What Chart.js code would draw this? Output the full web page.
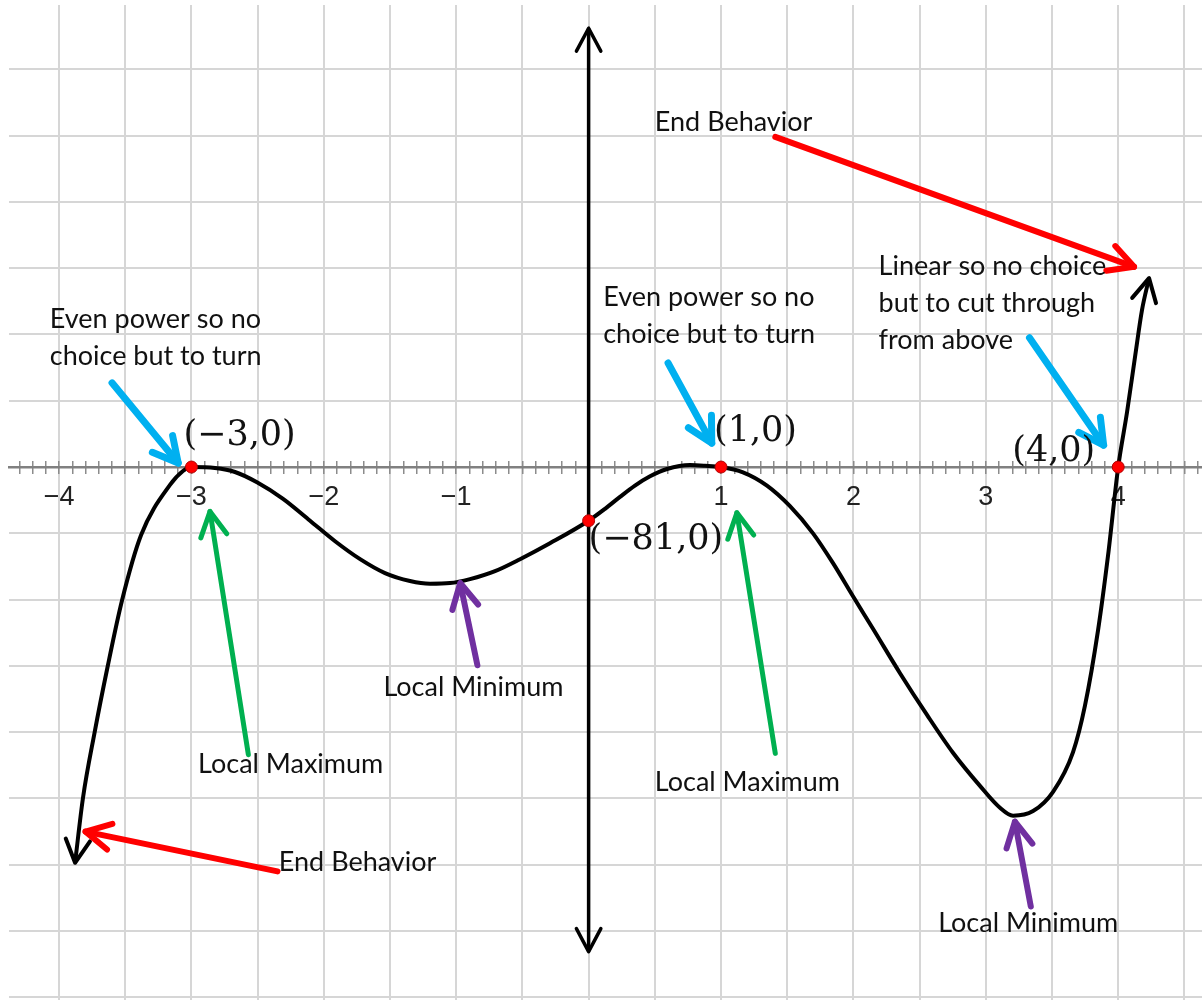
<!DOCTYPE html>
<html lang="en">
<head>
    <meta charset="UTF-8">
    <title>Polynomial sketch</title>
    <script src="https://cdn.jsdelivr.net/npm/chart.js"></script>
    <style>
        body { margin: 0; background: #fff; }
        .chart-container { position: relative; width: 1202px; height: 1000px; }
    </style>
</head>
<body>
    <div class="chart-container">
        <canvas id="polyChart"></canvas>
    </div>

    <script>
        // points
        var curveX = [-3.879, -3.819, -3.732, -3.634, -3.524, -3.381, -3.162, -3.064, -3.0,
            -2.822, -2.671, -2.505, -2.308, -2.104, -1.915, -1.726, -1.538, -1.349, -1.198, -1.047, -0.896, -0.707,
            -0.518, -0.292, 0, 0.124, 0.237, 0.350, 0.464, 0.592, 0.766, 0.879, 1.0,
            1.166, 1.347, 1.521, 1.695, 1.846, 1.997, 2.148, 2.352, 2.556, 2.752, 2.956, 3.107, 3.206, 3.357,
            3.508, 3.659, 3.749, 3.848, 3.923, 4.0, 4.067, 4.127, 4.180, 4.233];
        var curveY = [-597, -499, -401, -302, -201, -103, -27, -6, 0,
            -1.5, -7.5, -23, -48, -81, -112, -139, -160, -172, -176, -175, -169, -157,
            -139, -115, -81, -63, -45, -28, -14, -3, 3, 2, 0,
            -8, -28, -59, -100, -145, -195, -244, -311, -374, -431, -481, -514, -526, -519,
            -490, -430, -360, -246, -134, 0, 83, 166, 237, 285];

        // marked points and what they are called
        var markX = [-3, 0, 1, 4];
        var markY = [0, -81, 0, 0];
        var markText = ["(\u22123,0)", "(\u221281,0)", "(1,0)", "(4,0)"];
        var markDx = [-8, 0, -7, -23];
        var markDy = [-31, 19, -35, -15];
        var markAlign = ["left", "left", "left", "right"];

        // vertical axis arrow ends
        var yAxisEnds = [662, -731];

        // axis ticks / grid
        var xLabelValues = [-4, -3, -2, -1, 1, 2, 3, 4];
        var xLabelText = ["\u22124", "\u22123", "\u22122", "\u22121", "1", "2", "3", "4"];
        var xGrid = [-4, -3.5, -3, -2.5, -2, -1.5, -1, -0.5, 0, 0.5, 1, 1.5, 2, 2.5, 3, 3.5, 4, 4.5];
        var yGrid = [-800, -700, -600, -500, -400, -300, -200, -100, 0, 100, 200, 300, 400, 500, 600];
        var xMinor = [];
        for (var k = -43; k <= 46; k++) xMinor.push(k / 10);

        // note arrows: [fromX, fromY, toX, toY]
        var blueArrows = [[-3.60, 127, -3.10, 6], [0.60, 157, 0.93, 36], [3.33, 195, 3.89, 33]];
        var redArrows = [[1.41, 498, 4.12, 302], [-2.35, -610, -3.80, -550]];
        var greenArrows = [[-2.57, -434, -2.86, -67], [1.41, -432, 1.12, -69]];
        var purpleArrows = [[-0.84, -299, -0.97, -175], [3.34, -663, 3.22, -535]];

        // notes: lines of text, left x and first baseline y
        var noteLines = [
            ["End Behavior"],
            ["Linear so no choice", "but to cut through", "from above"],
            ["Even power so no", "choice but to turn"],
            ["Even power so no", "choice but to turn"],
            ["Local Minimum"],
            ["Local Maximum"],
            ["End Behavior"],
            ["Local Maximum"],
            ["Local Minimum"]
        ];
        var noteX = [0.50, 2.19, -4.07, 0.11, -1.55, -2.95, -2.34, 0.50, 2.64];
        var noteY = [507, 290, 210, 243, -345, -462, -609, -488, -701];

        function pairs(xs, ys) {
            return xs.map(function (v, i) { return { x: v, y: ys[i] }; });
        }

        function arrowSets(list, color, width) {
            return list.map(function (a) {
                return {
                    data: [{ x: a[0], y: a[1] }, { x: a[2], y: a[3] }],
                    borderColor: color,
                    borderWidth: width,
                    borderCapStyle: "round",
                    pointRadius: 0,
                    heads: "end",
                    headSize: 28,
                    order: 3
                };
            });
        }

        // open "V" arrow tip
        function chevron(ctx, from, tip, size, angle) {
            var a = Math.atan2(tip.y - from.y, tip.x - from.x);
            ctx.beginPath();
            ctx.moveTo(tip.x - size * Math.cos(a - angle), tip.y - size * Math.sin(a - angle));
            ctx.lineTo(tip.x, tip.y);
            ctx.lineTo(tip.x - size * Math.cos(a + angle), tip.y - size * Math.sin(a + angle));
            ctx.stroke();
        }

        var notesPlugin = {
            id: "notes",
            afterDatasetsDraw: function (chart) {
                var ctx = chart.ctx;
                var sx = chart.scales.x, sy = chart.scales.y;
                ctx.save();
                ctx.lineCap = "round";
                ctx.lineJoin = "round";
                chart.data.datasets.forEach(function (ds, i) {
                    if (!ds.heads) return;
                    var pts = chart.getDatasetMeta(i).data;
                    ctx.strokeStyle = ds.borderColor;
                    ctx.lineWidth = ds.borderWidth;
                    var ang = 28 * Math.PI / 180;
                    if (ds.heads.indexOf("start") >= 0) chevron(ctx, pts[1], pts[0], ds.headSize, ang);
                    if (ds.heads.indexOf("end") >= 0) chevron(ctx, pts[pts.length - 2], pts[pts.length - 1], ds.headSize, ang);
                });

                // intercept labels
                ctx.fillStyle = "#111";
                ctx.font = "35px 'DejaVu Serif'";
                ctx.textBaseline = "middle";
                markText.forEach(function (t, i) {
                    ctx.textAlign = markAlign[i];
                    ctx.fillText(t, sx.getPixelForValue(markX[i]) + markDx[i], sy.getPixelForValue(markY[i]) + markDy[i]);
                });

                // notes
                ctx.font = "27px Lato";
                ctx.textAlign = "left";
                ctx.textBaseline = "alphabetic";
                noteLines.forEach(function (lines, i) {
                    var px = sx.getPixelForValue(noteX[i]);
                    var py = sy.getPixelForValue(noteY[i]);
                    lines.forEach(function (line, j) {
                        ctx.fillText(line, px, py + j * 37);
                    });
                });
                ctx.restore();
            }
        };

        var datasets = [
            {
                data: pairs(markX, markY),
                showLine: false,
                pointRadius: 6,
                pointBackgroundColor: "#ff0000",
                pointBorderColor: "#b00000",
                pointBorderWidth: 1,
                order: 0
            },
            {
                data: pairs(curveX, curveY),
                borderColor: "#000",
                borderWidth: 4,
                pointRadius: 0,
                cubicInterpolationMode: "monotone",
                heads: "start end",
                headSize: 26,
                order: 1
            },
            {
                data: [{ x: 0, y: yAxisEnds[0] }, { x: 0, y: yAxisEnds[1] }],
                borderColor: "#000",
                borderWidth: 3.5,
                pointRadius: 0,
                heads: "start end",
                headSize: 26,
                order: 2
            }
        ].concat(
            arrowSets(blueArrows, "#00b0f0", 7),
            arrowSets(redArrows, "#ff0000", 6),
            arrowSets(greenArrows, "#00b050", 5),
            arrowSets(purpleArrows, "#7030a0", 6)
        );

        var ctx = document.getElementById("polyChart").getContext("2d");
        var polyChart = new Chart(ctx, {
            type: "line",
            data: { datasets: datasets },
            options: {
                responsive: true,
                maintainAspectRatio: false,
                animation: false,
                events: [],
                layout: { autoPadding: false, padding: { left: 9, top: 5, right: 0, bottom: 0 } },
                plugins: { legend: { display: false }, tooltip: { enabled: false } },
                scales: {
                    x: {
                        type: "linear",
                        min: -4.378,
                        max: 4.633,
                        position: { y: 0 },
                        afterBuildTicks: function (s) { s.ticks = xGrid.map(function (v) { return { value: v }; }); },
                        ticks: {
                            autoSkip: false,
                            maxRotation: 0,
                            padding: 14,
                            color: "#222",
                            font: { family: "'Liberation Sans', Arial", size: 27 },
                            callback: function (v) {
                                var i = xLabelValues.indexOf(v);
                                return i < 0 ? "" : xLabelText[i];
                            }
                        },
                        grid: { color: "#d6d6d6", lineWidth: 2, drawTicks: false },
                        border: { display: true, color: "#808080", width: 2.5 }
                    },
                    xMinor: {
                        type: "linear",
                        min: -4.378,
                        max: 4.633,
                        position: { y: 9.8 },
                        afterBuildTicks: function (s) { s.ticks = xMinor.map(function (v) { return { value: v }; }); },
                        ticks: { display: false },
                        grid: { drawOnChartArea: false, drawTicks: true, tickLength: 13, color: "#8c8c8c", lineWidth: 1.5 },
                        border: { display: false }
                    },
                    y: {
                        type: "linear",
                        min: -804,
                        max: 697,
                        afterBuildTicks: function (s) { s.ticks = yGrid.map(function (v) { return { value: v }; }); },
                        ticks: { display: false },
                        grid: { color: "#d6d6d6", lineWidth: 2, drawTicks: false },
                        border: { display: false }
                    }
                }
            },
            plugins: [notesPlugin]
        });
    </script>
</body>
</html>
